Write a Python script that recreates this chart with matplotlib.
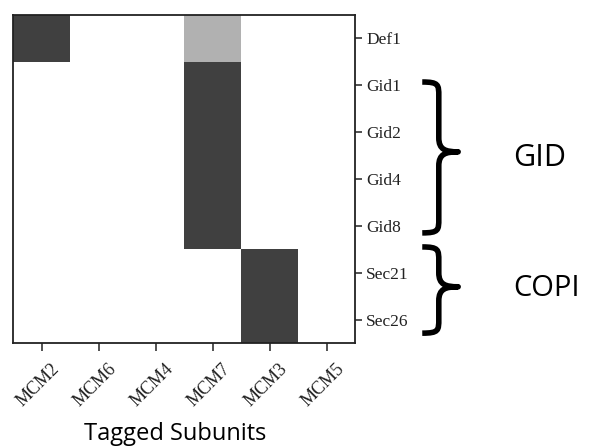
import matplotlib
matplotlib.use("Agg")
import matplotlib.pyplot as plt
import matplotlib.transforms as mtransforms
import numpy as np
from matplotlib.colors import LinearSegmentedColormap
from matplotlib.path import Path
from matplotlib.patches import PathPatch

subunits = ['MCM2', 'MCM6', 'MCM4', 'MCM7', 'MCM3', 'MCM5']
proteins = ['Def1', 'Gid1', 'Gid2', 'Gid4', 'Gid8', 'Sec21', 'Sec26']
signal = [
    [1.0, 0.0, 0.0, 0.41, 0.0, 0.0],  # Def1
    [0.0, 0.0, 0.0, 1.0, 0.0, 0.0],   # Gid1
    [0.0, 0.0, 0.0, 1.0, 0.0, 0.0],   # Gid2
    [0.0, 0.0, 0.0, 1.0, 0.0, 0.0],   # Gid4
    [0.0, 0.0, 0.0, 1.0, 0.0, 0.0],   # Gid8
    [0.0, 0.0, 0.0, 0.0, 1.0, 0.0],   # Sec21
    [0.0, 0.0, 0.0, 0.0, 1.0, 0.0],   # Sec26
]
group_names = ['GID', 'COPI']

fig = plt.figure(figsize=(5.89, 4.48), dpi=100)
ax = fig.add_axes([13/589, 1 - 343/448, 342/589, 328/448])

cmap = LinearSegmentedColormap.from_list('g', ['#ffffff', '#404040'])
data = np.array(signal)
ax.pcolormesh(np.arange(len(subunits) + 1), np.arange(len(proteins) + 1), data,
              cmap=cmap, vmin=0, vmax=1)
ax.set_xlim(0, len(subunits))
ax.set_ylim(len(proteins), 0)

serif = ['Liberation Serif', 'DejaVu Serif']
ax.yaxis.tick_right()
ax.set_yticks(np.arange(len(proteins)) + 0.5)
ax.set_yticklabels(proteins, family=serif, fontsize=12.5)
ax.set_xticks(np.arange(len(subunits)) + 0.5)
ax.set_xticklabels(subunits, family=serif, fontsize=13, rotation=45,
                   ha='right', rotation_mode='anchor')
ax.tick_params(axis='y', length=5, width=1.1, pad=3, colors='#222222')
ax.tick_params(axis='x', length=6, width=1.1, pad=3, colors='#222222')
off = mtransforms.ScaledTranslation(9/100, -5/100, fig.dpi_scale_trans)
for lbl in ax.get_xticklabels():
    lbl.set_transform(lbl.get_transform() + off)
for s in ax.spines.values():
    s.set_linewidth(1.3)
    s.set_color('#222222')


def brace(ax, xl, xs, xt, y0, ym, y1, r):
    verts = [
        (xl, y0), (xs, y0), (xs, y0 + r * 0.2), (xs, y0 + r),
        (xs, ym - r),
        (xs, ym - r * 0.15), (xs + (xt - xs) * 0.35, ym), (xt, ym),
        (xs + (xt - xs) * 0.35, ym), (xs, ym + r * 0.15), (xs, ym + r),
        (xs, y1 - r),
        (xs, y1 - r * 0.2), (xs, y1), (xl, y1),
    ]
    codes = [Path.MOVETO, Path.CURVE4, Path.CURVE4, Path.CURVE4,
             Path.LINETO,
             Path.CURVE4, Path.CURVE4, Path.CURVE4,
             Path.CURVE4, Path.CURVE4, Path.CURVE4,
             Path.LINETO,
             Path.CURVE4, Path.CURVE4, Path.CURVE4]
    p = PathPatch(Path(verts, codes), facecolor='none', edgecolor='black',
                  lw=4.0, capstyle='butt', joinstyle='round', clip_on=False)
    ax.add_patch(p)


brace(ax, 7.18, 7.47, 7.81, 1.43, 2.92, 4.65, 0.3)
brace(ax, 7.18, 7.47, 7.81, 4.95, 5.80, 6.79, 0.3)

sans = ['Open Sans', 'DejaVu Sans']
fig.text(513/589, 1 - 158/448, group_names[0], family=sans, fontsize=22,
         ha='left', va='center')
fig.text(513/589, 1 - 288.5/448, group_names[1], family=sans, fontsize=21,
         ha='left', va='center')
fig.text(175/589, 1 - 440/448, 'Tagged Subunits', family=sans, fontsize=17,
         ha='center', va='baseline')

fig.savefig('out.png', dpi=100)
